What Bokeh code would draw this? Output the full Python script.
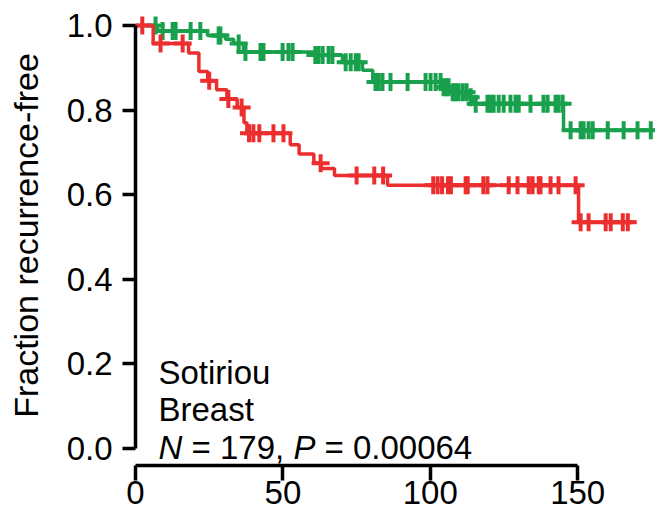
import numpy as np
from bokeh.plotting import figure
from bokeh.models import Label, FixedTicker, LinearAxis, Range1d, CustomJSTickFormatter
from bokeh.embed import file_html
from bokeh.resources import INLINE

# ---- data ----
green_t = [0, 7.5, 24.4, 30.5, 33.3, 36.6, 60.3, 70.2, 77.0, 80.5, 104.5, 107.0, 113.0, 114.7, 145.2]
green_s = [1.0, 0.987, 0.976, 0.967, 0.957, 0.937, 0.930, 0.913, 0.894, 0.866, 0.854, 0.842, 0.830, 0.815, 0.752]
green_end = 176.0
green_cens = [6.8, 9.2, 12.6, 13.6, 18.7, 22.0, 28.2, 28.8, 35.0, 37.3, 42.4, 43.4, 49.9, 51.9, 53.3,
              61.0, 62.1, 63.5, 65.5, 66.8, 71.3, 73.0, 74.7, 75.7, 81.4, 82.5, 83.8, 86.5, 92.3,
              98.4, 100.1, 101.8, 103.5, 104.5, 105.5, 106.2, 107.6, 108.6, 109.6, 111.0, 112.3,
              113.7, 115.4, 119.4, 120.5, 121.5, 123.2, 124.9, 127.2, 128.9, 130.0, 134.0, 138.4,
              139.8, 142.5, 143.5, 144.9, 147.6, 151.0, 152.0, 153.7, 155.1, 160.2, 165.6, 170.3, 174.8]

red_t = [0, 6.0, 18.0, 21.5, 24.5, 27.5, 31.0, 34.5, 36.8, 37.8, 52.5, 55.5, 60.5, 63.0, 67.5, 85.5, 150.3]
red_s = [1.0, 0.957, 0.935, 0.891, 0.869, 0.848, 0.826, 0.806, 0.770, 0.745, 0.718, 0.696, 0.674, 0.662, 0.645, 0.622, 0.535]
red_end = 169.5
red_cens = [2.3, 8.5, 16.0, 25.0, 31.5, 36.0, 38.5, 40.0, 42.0, 46.8, 50.2, 62.8, 75.0, 81.0, 84.0,
            101.0, 102.5, 104.0, 106.0, 107.0, 112.0, 112.7, 118.0, 119.4, 126.6, 129.6, 133.4,
            134.7, 136.8, 137.4, 140.8, 143.5, 149.3, 151.0, 153.7, 159.5, 161.2, 165.3, 167.0]

x_ticks = [0, 50, 100, 150]
y_ticks = [0.0, 0.2, 0.4, 0.6, 0.8, 1.0]
y_label = "Fraction recurrence-free"
note1 = "Sotiriou"
note2 = "Breast"

GREEN = "#18a04d"
RED = "#ed2e2e"
FONT = "Liberation Sans"
FS = "33px"


def surv_at(ts, ss, x):
    i = np.searchsorted(np.asarray(ts), np.asarray(x), side="right") - 1
    return np.asarray(ss)[i]


p = figure(width=655, height=516, output_backend="svg", toolbar_location=None,
           x_range=Range1d(0, 176.4), y_range=Range1d(-0.04, 1.047),
           x_axis_location=None, y_axis_location=None,
           min_border_left=135, min_border_right=0, min_border_top=5, min_border_bottom=51)
p.outline_line_color = None
p.xgrid.visible = False
p.ygrid.visible = False
p.background_fill_color = "white"
p.border_fill_color = "white"

yax = LinearAxis(ticker=FixedTicker(ticks=y_ticks), bounds=(0, 1),
                 formatter=CustomJSTickFormatter(code="return tick.toFixed(1);"))
yax.axis_label = y_label
xax = LinearAxis(ticker=FixedTicker(ticks=x_ticks), bounds=(0, 150))
for ax in (xax, yax):
    ax.axis_line_width = 3.5
    ax.axis_line_color = "black"
    ax.major_tick_line_width = 3.5
    ax.major_tick_line_color = "black"
    ax.major_tick_in = 0
    ax.major_tick_out = 13
    ax.minor_tick_line_color = None
    ax.major_label_text_font = FONT
    ax.major_label_text_font_size = FS
    ax.major_label_text_color = "black"
    ax.axis_label_text_font = FONT
    ax.axis_label_text_font_size = "34px"
    ax.axis_label_text_font_style = "normal"
    ax.axis_label_text_color = "black"
yax.major_label_standoff = 10
yax.axis_label_standoff = 19
xax.major_tick_out = 15
xax.major_label_standoff = 0
p.add_layout(yax, "left")
p.add_layout(xax, "below")

# curves
for ts, ss, end, cens, col in ((green_t, green_s, green_end, green_cens, GREEN),
                               (red_t, red_s, red_end, red_cens, RED)):
    xs = list(ts) + [end]
    ys = list(ss) + [ss[-1]]
    p.step(xs, ys, mode="after", line_color=col, line_width=3.5)
    p.scatter(cens, surv_at(ts, ss, cens), marker="cross", size=18, line_color=col, line_width=4)

# annotations
for txt, yv in ((note1, 0.18), (note2, 0.092)):
    p.add_layout(Label(x=7.8, y=yv, text=txt, text_font=FONT, text_font_size=FS,
                       text_color="black", text_baseline="alphabetic"))
pieces = [("N", "italic", 0), ("= 179,", "normal", 33), ("P", "italic", 135), ("= 0.00064", "normal", 166)]
for txt, style, off in pieces:
    p.add_layout(Label(x=7.8, y=0.002, x_offset=off, text=txt, text_font=FONT, text_font_size=FS,
                       text_font_style=style, text_color="black", text_baseline="alphabetic"))

open("out.html", "w").write(file_html(p, INLINE))
